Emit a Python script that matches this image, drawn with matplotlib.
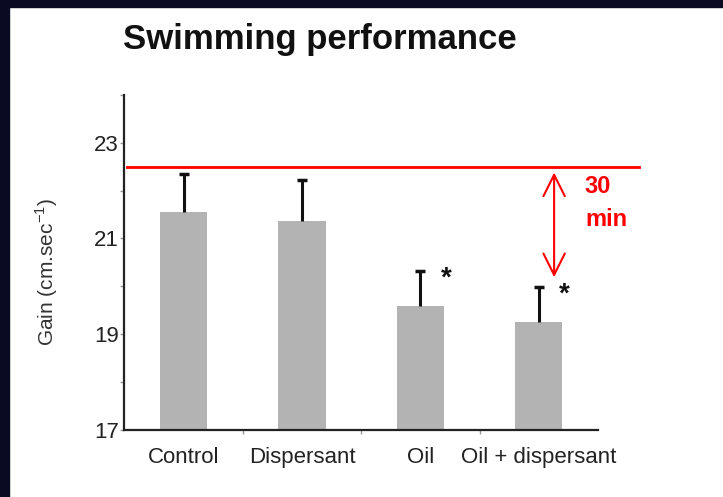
import matplotlib.pyplot as plt
from matplotlib.patches import Rectangle

plt.rcParams['font.family'] = ['Liberation Sans', 'DejaVu Sans']

# Swimming gain per treatment group, mean and upper error
groups = ['Control', 'Dispersant', 'Oil', 'Oil + dispersant']
gain = [21.55, 21.37, 19.59, 19.25]
gain_err = [0.80, 0.85, 0.74, 0.73]
significant = [False, False, True, True]

# reference level and the 30 min gap marked with the arrow
ref_level = 22.5
arrow_low = 20.19
arrow_high = 22.38
arrow_label = ['30', 'min']

yticks = [17, 19, 21, 23]
yminor = [18, 20, 22, 24]

fig = plt.figure(figsize=(7.23, 4.97), dpi=100)
fig.patch.set_facecolor('white')

# dark slide frame on the left and top edges
navy = '#0a0a22'
fig.patches.append(Rectangle((0, 0), 9 / 723, 1, transform=fig.transFigure,
                             color=navy, zorder=0))
fig.patches.append(Rectangle((0, 1 - 7 / 497), 1, 7 / 497, transform=fig.transFigure,
                             color=navy, zorder=0))

ax = fig.add_axes([0.172, 0.135, 0.655, 0.674])
x = list(range(len(groups)))
tops = [g + e for g, e in zip(gain, gain_err)]

ax.bar(x, gain, width=0.40, color='#b3b3b3', zorder=2)
# upper half of the error bars only, with a cap at the top
ax.vlines(x, gain, tops, color='#111111', lw=2.2, zorder=3)
ax.plot(x, tops, ls='none', marker='_', markersize=7, mew=2.5,
        color='#111111', zorder=3)

for xi, t, s in zip(x, tops, significant):
    if s:
        ax.text(xi + 0.22, t - 0.16, '*', fontsize=20, fontweight='bold',
                ha='center', va='center', color='#111111')

# red reference line running past the last bar
ax.plot([-0.48, 3.85], [ref_level, ref_level], color='#ff0000', lw=2,
        clip_on=False, zorder=4)
ax.annotate('', xy=(3.13, arrow_low), xytext=(3.13, arrow_high),
            arrowprops=dict(arrowstyle='<->,head_length=0.7,head_width=0.35',
                            color='#ff0000', lw=1.5, mutation_scale=22,
                            shrinkA=0, shrinkB=0))
ax.text(3.39, 22.08, arrow_label[0], color='#ff0000', fontsize=17,
        fontweight='bold', ha='left', va='center')
ax.text(3.39, 21.39, arrow_label[1], color='#ff0000', fontsize=17,
        fontweight='bold', ha='left', va='center')

ax.set_xlim(-0.5, 3.5)
ax.set_ylim(17, 24)
ax.set_xticks(x)
ax.set_xticklabels(groups, fontsize=16, color='#222222')
ax.set_xticks([0.5, 1.5, 2.5], minor=True)
ax.set_yticks(yticks)
ax.set_yticklabels([str(t) for t in yticks], fontsize=16, color='#222222')
ax.set_yticks(yminor, minor=True)
ax.tick_params(axis='x', which='major', length=0, pad=12)
ax.tick_params(axis='x', which='minor', length=3, color='#999999', width=1)
ax.tick_params(axis='y', which='both', length=3, color='#999999', width=1, pad=1)

for side in ['top', 'right']:
    ax.spines[side].set_visible(False)
for side in ['left', 'bottom']:
    ax.spines[side].set_linewidth(1.6)
    ax.spines[side].set_color('#222222')

ax.set_ylabel('Gain (cm.sec$^{\\mathregular{-1}}$)', fontsize=15, color='#333333')
ax.yaxis.set_label_coords(-0.136, 0.47)

fig.text(320 / 723, 1 - 40 / 497, 'Swimming performance', fontsize=25,
         fontweight='bold', ha='center', va='center', color='#111111')

fig.savefig('out.png', dpi=100)
